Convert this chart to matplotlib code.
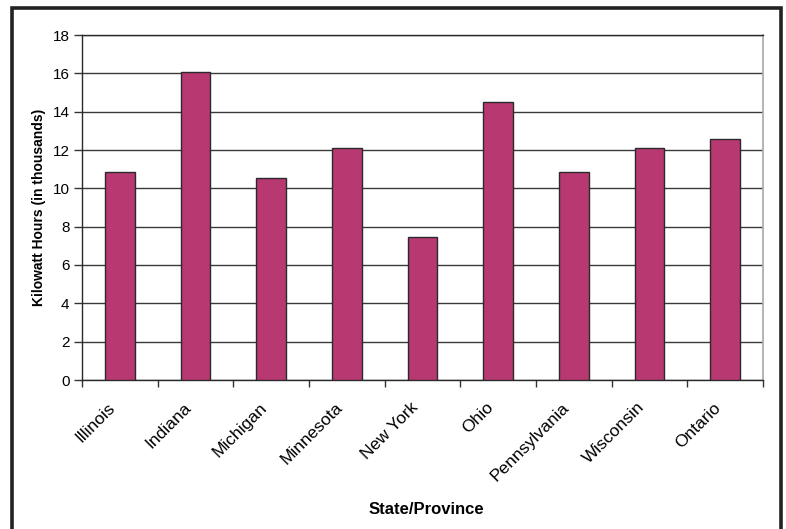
import matplotlib.pyplot as plt
import matplotlib.patches as patches
import matplotlib.transforms as mtransforms
import numpy as np

# Data
states = ['Illinois', 'Indiana', 'Michigan', 'Minnesota', 'New York',
          'Ohio', 'Pennsylvania', 'Wisconsin', 'Ontario']
kwh_thousands = [10.85, 16.05, 10.52, 12.12, 7.45, 14.52, 10.84, 12.1, 12.57]
y_ticks = [0, 2, 4, 6, 8, 10, 12, 14, 16, 18]

plt.rcParams['font.family'] = ['Liberation Sans', 'DejaVu Sans']

fig = plt.figure(figsize=(7.86, 5.29), dpi=100)
ax = fig.add_axes([82 / 786, 1 - 380 / 529, (763 - 82) / 786, (380 - 35) / 529])

# Outer frame of the chart (bottom edge runs off the picture)
frame = patches.Rectangle((12 / 786, -0.1), (781 - 12) / 786, 1.1 - 8 / 529,
                          transform=fig.transFigure, fill=False,
                          edgecolor='#222222', linewidth=2.6, clip_on=False)
fig.patches.append(frame)

x = np.arange(len(states))
ax.bar(x, kwh_thousands, width=0.39, color='#B83872',
       edgecolor='#2a2a2a', linewidth=1.0, zorder=3)

ax.set_xlim(-0.5, len(states) - 0.5)
ax.set_ylim(0, 18)
ax.set_yticks(y_ticks)
ax.yaxis.grid(True, color='#3a3a3a', linewidth=1.0, zorder=0)
ax.set_axisbelow(True)

# category labels at centres, tick marks at category boundaries
ax.set_xticks(x)
ax.set_xticklabels(states, rotation=45, ha='right', va='center',
                   rotation_mode='anchor', fontsize=12.5)
ax.set_xticks(np.arange(len(states) + 1) - 0.5, minor=True)
ax.tick_params(axis='x', which='major', length=0, pad=18)
ax.tick_params(axis='x', which='minor', length=5, width=1, color='#333333')
ax.tick_params(axis='y', length=6, width=1, color='#333333', labelsize=11, pad=3)

# nudge the slanted labels left (after tick_params, which resets transforms)
shift = mtransforms.ScaledTranslation(-7 / 100, 0, fig.dpi_scale_trans)
for lbl in ax.get_xticklabels():
    lbl.set_transform(lbl.get_transform() + shift)

for side in ['left', 'bottom', 'top']:
    ax.spines[side].set_color('#2a2a2a')
    ax.spines[side].set_linewidth(1.0)
ax.spines['right'].set_color('#a8a8a8')
ax.spines['right'].set_linewidth(1.2)

ax.set_ylabel('Kilowatt Hours (in thousands)', fontsize=10, fontweight='bold')
ax.yaxis.set_label_coords(-0.053, 0.5)
ax.set_xlabel('State/Province', fontsize=12, fontweight='bold')
ax.xaxis.set_label_coords(0.506, -0.355)

fig.savefig('out.png', dpi=100)
